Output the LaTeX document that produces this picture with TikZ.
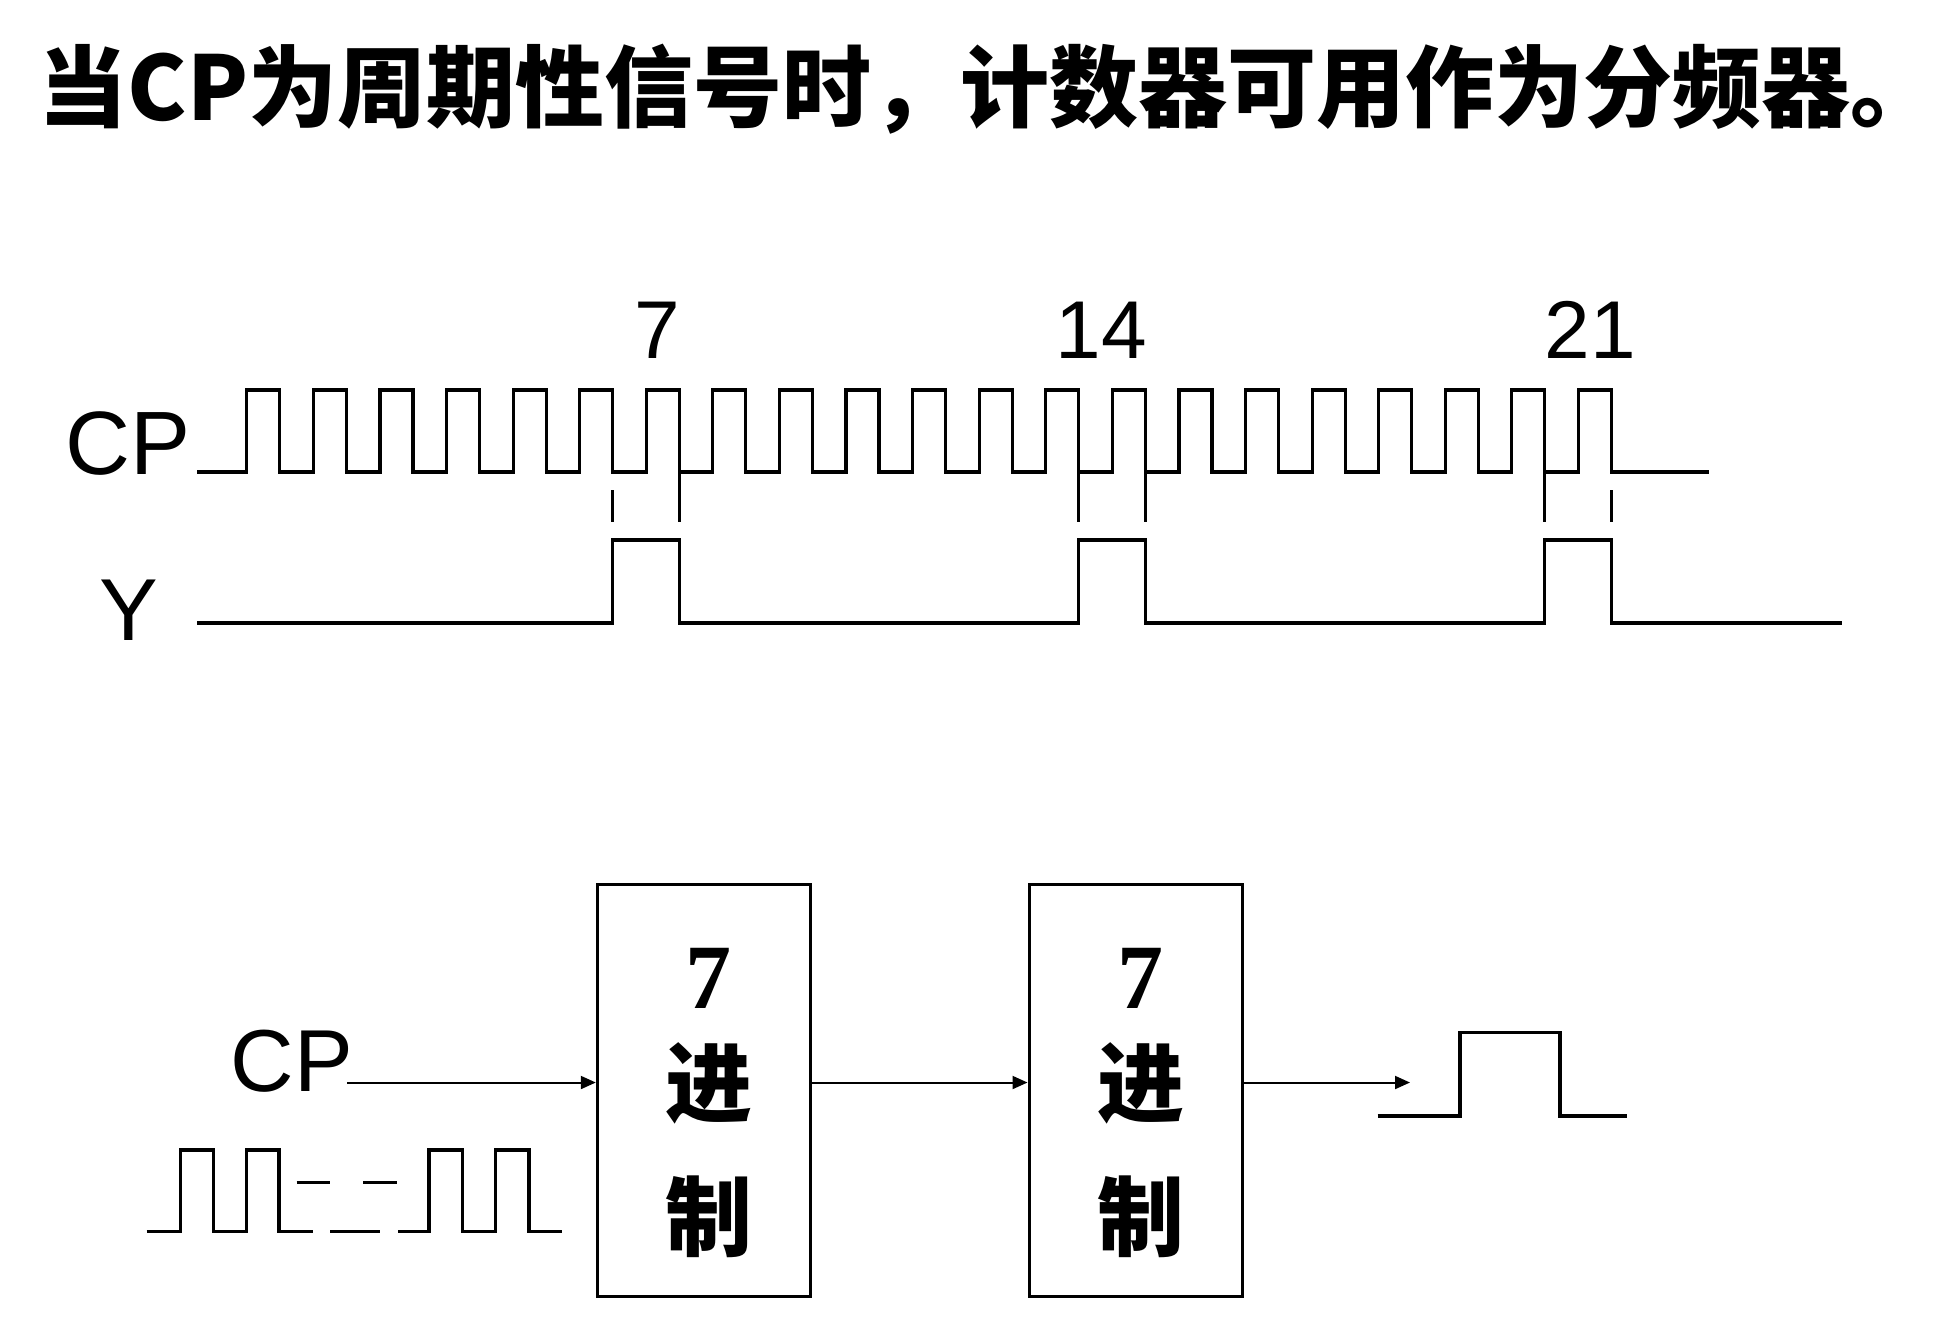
\documentclass[tikz,border=0pt]{standalone}
\usepackage{fontspec}
\setmainfont{Liberation Sans}
\newfontfamily\cjk{Noto Sans CJK SC}
\newfontfamily\serifbold{Liberation Serif}
\usetikzlibrary{arrows.meta}
\begin{document}
\begin{tikzpicture}[x=1pt,y=-1pt,
  wave/.style={line width=3.2pt, line join=miter},
  sig/.style={inner sep=0pt, font=\fontsize{90}{100}\selectfont},
  num/.style={inner sep=0pt, font=\fontsize{82}{90}\selectfont},
  counter/.style={draw, line width=3pt, minimum width=213pt, minimum height=412pt, inner sep=0pt},
  boxcjk/.style={inner sep=0pt, font=\cjk\bfseries\fontsize{87}{90}\selectfont},
  boxnum/.style={inner sep=0pt, font=\serifbold\bfseries\fontsize{92}{95}\selectfont},
  conn/.style={line width=2pt, -{Triangle[length=15pt,width=13pt]}},
]
\useasboundingbox (0,0) rectangle (1934,1326);

% title
\node[inner sep=0pt, font=\cjk\bfseries\fontsize{89}{92}\selectfont] (title) at (989,89) {当CP为周期性信号时，计数器可用作为分频器。};

% timing diagram labels
\node[sig] (cplab) at (128.5,443.5) {CP};
\node[sig, font=\fontsize{88}{100}\selectfont] (ylab) at (129,610) {Y};
\node[num] (n7) at (657,330) {7};
\node[num] (n14) at (1101,330) {14};
\node[num] (n21) at (1590,330) {21};

% CP waveform
\draw[wave] (197,472) \foreach \k in {0,...,20}{
  -- ({246.8+66.58*\k},472) -- ({246.8+66.58*\k},390)
  -- ({279.8+66.58*\k},390) -- ({279.8+66.58*\k},472)} -- (1709,472);

% Y waveform
\draw[wave] (197,623) -- (612.7,623) -- (612.7,540) -- (679.3,540) -- (679.3,623)
  -- (1078.8,623) -- (1078.8,540) -- (1145.3,540) -- (1145.3,623)
  -- (1544.8,623) -- (1544.8,540) -- (1611.4,540) -- (1611.4,623) -- (1842,623);

% ticks
\draw[wave] (612.7,490) -- (612.7,522);
\draw[wave] (679.3,472) -- (679.3,522);
\draw[wave] (1078.8,472) -- (1078.8,522);
\draw[wave] (1145.3,472) -- (1145.3,522);
\draw[wave] (1544.8,472) -- (1544.8,522);
\draw[wave] (1611.4,490) -- (1611.4,522);

% block diagram
\node[counter] (c1) at (703.8,1090.7) {};
\node[counter] (c2) at (1135.5,1090.7) {};
\node[boxnum] (c1a) at (708.5,978) {7};
\node[boxcjk] (c1b) at (708.5,1083) {进};
\node[boxcjk] (c1c) at (708.5,1217) {制};
\node[boxnum] (c2a) at (1140.5,978) {7};
\node[boxcjk] (c2b) at (1140.5,1083) {进};
\node[boxcjk] (c2c) at (1140.5,1217) {制};

\node[sig, font=\fontsize{88}{100}\selectfont] (cpl) at (292,1061) {CP};
\coordinate (cpin) at (347,1082.5);
\coordinate (outend) at (1410,1082.5);
\draw[conn] (cpin) -- (c1.west |- cpin);
\draw[conn] (c1.east |- cpin) -- (c2.west |- cpin);
\draw[conn] (c2.east |- cpin) -- (outend);

% input pulse train
\draw[wave] (146.7,1231.7) -- (180.7,1231.7) -- (180.7,1150) -- (213.3,1150) -- (213.3,1231.7)
  -- (246.7,1231.7) -- (246.7,1150) -- (279,1150) -- (279,1231.7) -- (313.3,1231.7);
\draw[wave] (330,1231.7) -- (380,1231.7);
\draw[wave] (398.3,1231.7) -- (429,1231.7) -- (429,1150) -- (462.3,1150) -- (462.3,1231.7)
  -- (495.7,1231.7) -- (495.7,1150) -- (529,1150) -- (529,1231.7) -- (562.3,1231.7);
\draw[wave] (296.7,1182.7) -- (330,1182.7);
\draw[wave] (363.3,1182.7) -- (396.7,1182.7);

% output pulse
\draw[wave] (1377.5,1116) -- (1460,1116) -- (1460,1032.5) -- (1560,1032.5) -- (1560,1116) -- (1626.5,1116);
\end{tikzpicture}
\end{document}
